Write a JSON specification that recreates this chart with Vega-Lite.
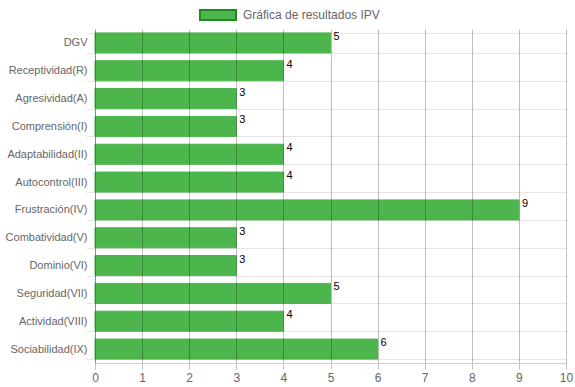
{
  "$schema": "https://vega.github.io/schema/vega-lite/v6.json",
  "width": 471,
  "height": 334,
  "autosize": {"type": "none"},
  "padding": {"left": 95, "top": 29, "right": 9, "bottom": 24},
  "background": "white",
  "config": {
    "view": {"stroke": null},
    "font": "Liberation Sans"
  },
  "data": {
    "values": [
      {"categoria": "DGV", "valor": 5, "serie": "Gráfica de resultados IPV"},
      {"categoria": "Receptividad(R)", "valor": 4, "serie": "Gráfica de resultados IPV"},
      {"categoria": "Agresividad(A)", "valor": 3, "serie": "Gráfica de resultados IPV"},
      {"categoria": "Comprensión(I)", "valor": 3, "serie": "Gráfica de resultados IPV"},
      {"categoria": "Adaptabilidad(II)", "valor": 4, "serie": "Gráfica de resultados IPV"},
      {"categoria": "Autocontrol(III)", "valor": 4, "serie": "Gráfica de resultados IPV"},
      {"categoria": "Frustración(IV)", "valor": 9, "serie": "Gráfica de resultados IPV"},
      {"categoria": "Combatividad(V)", "valor": 3, "serie": "Gráfica de resultados IPV"},
      {"categoria": "Dominio(VI)", "valor": 3, "serie": "Gráfica de resultados IPV"},
      {"categoria": "Seguridad(VII)", "valor": 5, "serie": "Gráfica de resultados IPV"},
      {"categoria": "Actividad(VIII)", "valor": 4, "serie": "Gráfica de resultados IPV"},
      {"categoria": "Sociabilidad(IX)", "valor": 6, "serie": "Gráfica de resultados IPV"}
    ]
  },
  "encoding": {
    "y": {
      "field": "categoria",
      "type": "nominal",
      "sort": null,
      "scale": {"paddingInner": 0.28, "paddingOuter": 0.14},
      "axis": {
        "title": null,
        "bandPosition": 0,
        "grid": true,
        "gridColor": "#e6e6e6",
        "gridWidth": 1,
        "ticks": true,
        "tickColor": "#e6e6e6",
        "tickSize": 9,
        "tickBand": "extent",
        "domain": true,
        "domainColor": "#bbbbbb",
        "labelColor": "#666666",
        "labelFontSize": 11,
        "labelPadding": -1,
        "labelFont": "Liberation Sans"
      }
    },
    "x": {
      "field": "valor",
      "type": "quantitative",
      "scale": {"domain": [0, 10], "nice": false},
      "axis": {
        "title": null,
        "values": [0, 1, 2, 3, 4, 5, 6, 7, 8, 9, 10],
        "grid": true,
        "gridColor": "rgba(0,0,0,0.25)",
        "zindex": 1,
        "domainColor": "#d0d0d0",
        "domainWidth": 1,
        "tickColor": "rgba(0,0,0,0.25)",
        "tickSize": 6,
        "labelColor": "#666666",
        "labelFontSize": 12,
        "labelPadding": 3,
        "labelFont": "Liberation Sans",
        "labelFlush": false
      }
    }
  },
  "layer": [
    {
      "mark": {"type": "bar", "fill": "#4cb54c", "stroke": "#4cb54c", "strokeWidth": 1},
      "encoding": {
        "color": {
          "field": "serie",
          "type": "nominal",
          "scale": {"range": ["#4cb54c"]},
          "legend": {
            "title": null,
            "orient": "none",
            "legendX": 104,
            "legendY": -33,
            "symbolType": "M-1,-0.278H1V0.278H-1Z",
            "symbolSize": 1296,
            "symbolFillColor": "#55bb55",
            "symbolStrokeColor": "#1f8a1f",
            "symbolStrokeWidth": 2,
            "symbolOpacity": 1,
            "labelColor": "#666666",
            "labelFontSize": 12,
            "labelFont": "Liberation Sans",
            "labelOffset": 6
          }
        }
      }
    },
    {
      "mark": {"type": "text", "align": "left", "baseline": "middle", "dx": 3, "dy": -6, "fontSize": 11, "color": "#000000", "font": "Liberation Sans"},
      "encoding": {
        "text": {"field": "valor", "type": "quantitative"}
      }
    }
  ]
}
